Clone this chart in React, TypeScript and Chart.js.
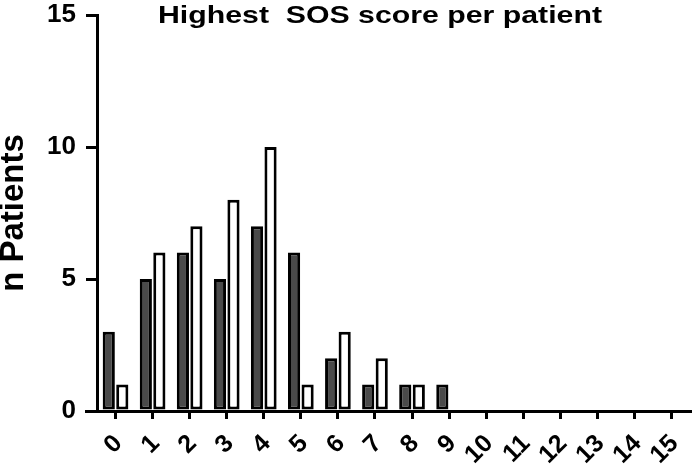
import React, { useEffect, useRef } from "react";
import { Chart, registerables } from "chart.js";

Chart.register(...registerables);

const categories = ["0", "1", "2", "3", "4", "5", "6", "7", "8", "9", "10", "11", "12", "13", "14", "15"];
const darkSeries: (number | null)[] = [3, 5, 6, 5, 7, 6, 2, 1, 1, 1, null, null, null, null, null, null];
const whiteSeries: (number | null)[] = [1, 6, 7, 8, 10, 1, 3, 2, 1, null, null, null, null, null, null, null];
const yTicks = [0, 5, 10, 15];
const titleText = "Highest  SOS score per patient";
const yTitle = "n Patients";

const FONT = "'Liberation Sans', Arial, sans-serif";

const extrasPlugin = {
  id: "extras",
  afterDraw(chart: any) {
    const ctx = chart.ctx;
    const area = chart.chartArea;
    ctx.save();
    ctx.strokeStyle = "#000";
    ctx.lineWidth = 3;
    ctx.beginPath();
    ctx.moveTo(85, Math.round(area.bottom) + 0.5);
    ctx.lineTo(area.left, Math.round(area.bottom) + 0.5);
    ctx.stroke();
    ctx.font = `bold 24px ${FONT}`;
    ctx.fillStyle = "#000";
    ctx.textBaseline = "alphabetic";
    ctx.textAlign = "left";
    const w = ctx.measureText(titleText).width;
    const target = 444;
    const sx = target / w;
    ctx.translate(158, 23);
    ctx.scale(sx, 1);
    ctx.fillText(titleText, 0, 0);
    ctx.restore();
  },
};

export default function App() {
  const ref = useRef<HTMLCanvasElement | null>(null);
  useEffect(() => {
    if (!ref.current) return;
    const chart = new Chart(ref.current, {
      type: "bar",
      data: {
        labels: categories,
        datasets: [
          {
            label: "A",
            data: darkSeries,
            backgroundColor: "#4a4a4a",
            borderColor: "#000",
            borderWidth: 3,
            borderSkipped: false,
            categoryPercentage: 0.73,
            barPercentage: 0.9,
          },
          {
            label: "B",
            data: whiteSeries,
            backgroundColor: "#ffffff",
            borderColor: "#000",
            borderWidth: 3,
            borderSkipped: false,
            categoryPercentage: 0.73,
            barPercentage: 0.9,
          },
        ],
      },
      options: {
        animation: false,
        responsive: false,
        maintainAspectRatio: false,
        layout: { padding: { top: 15, right: 6, left: 0, bottom: 0 } },
        plugins: {
          legend: { display: false },
          title: { display: false },
          tooltip: { enabled: false },
        },
        scales: {
          x: {
            type: "category",
            offset: true,
            grid: {
              display: true,
              offset: false,
              drawOnChartArea: false,
              drawTicks: true,
              tickLength: 8,
              color: "#000",
              lineWidth: 3,
            },
            border: { display: true, color: "#000", width: 3 },
            ticks: {
              color: "#000",
              font: { family: FONT, size: 25, weight: "bold" },
              minRotation: 45,
              maxRotation: 45,
              autoSkip: false,
              padding: 10,
              labelOffset: 3,
            },
            afterFit(scale: any) {
              scale.height = 55;
              scale.paddingLeft = 0;
              scale.paddingRight = 0;
            },
          },
          y: {
            min: 0,
            max: 15,
            afterBuildTicks(scale: any) {
              scale.ticks = yTicks.map((v) => ({ value: v }));
            },
            grid: {
              display: true,
              drawOnChartArea: false,
              drawTicks: true,
              tickLength: 11,
              color: "#000",
              lineWidth: 3,
            },
            border: { display: true, color: "#000", width: 3 },
            ticks: {
              color: "#000",
              font: { family: FONT, size: 26, weight: "bold" },
              padding: 10,
            },
            title: {
              display: true,
              text: yTitle,
              color: "#000",
              font: { family: FONT, size: 33, weight: "bold", lineHeight: 0.85 },
              padding: 0,
            },
            afterFit(scale: any) {
              scale.width = 97;
              scale.paddingTop = 0;
              scale.paddingBottom = 0;
            },
          },
        },
      },
      plugins: [extrasPlugin],
    } as any);
    return () => chart.destroy();
  }, []);
  return (
    <div style={{ position: "fixed", left: 0, top: 0, width: 696, height: 466, background: "#fff" }}>
      <canvas ref={ref} width={696} height={466} />
    </div>
  );
}
